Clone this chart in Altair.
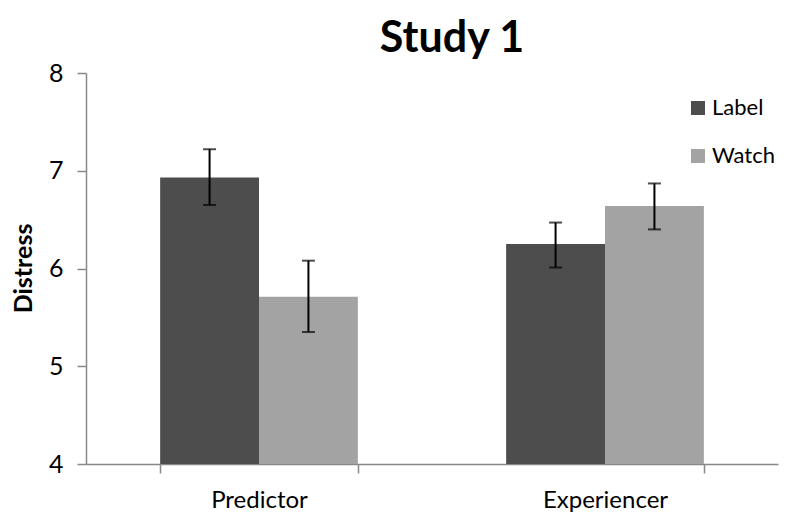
import altair as alt
import pandas as pd

categories = ["Predictor", "Predictor", "Experiencer", "Experiencer"]
conditions = ["Label", "Watch", "Label", "Watch"]
means = [6.93, 5.71, 6.25, 6.64]
err_low = [6.65, 5.35, 6.01, 6.40]
err_high = [7.22, 6.08, 6.47, 6.87]
y_ticks = [4, 5, 6, 7, 8]

cat_order = ["Predictor", "Experiencer"]
cond_order = ["Label", "Watch"]
colors = ["#4d4d4d", "#a3a3a3"]

df = pd.DataFrame({
    "cat": categories,
    "cond": conditions,
    "mean": means,
    "lo": err_low,
    "hi": err_high,
})

FONT = "Lato"
AXIS_GRAY = "#888888"

x_enc = alt.X(
    "cat:N",
    sort=cat_order,
    title=None,
    scale=alt.Scale(paddingInner=3 / 7, paddingOuter=3 / 14),
    axis=alt.Axis(
        tickBand="extent",
        tickSize=9,
        tickColor=AXIS_GRAY,
        tickWidth=1.5,
        domainColor=AXIS_GRAY,
        domainWidth=1.5,
        labelFont=FONT,
        labelFontSize=24,
        labelColor="#000000",
        labelPadding=15,
        labelAngle=0,
    ),
)
xo_enc = alt.XOffset("cond:N", sort=cond_order, scale=alt.Scale(paddingInner=0, paddingOuter=0))

y_scale = alt.Scale(domain=[4, 8], zero=False, nice=False)

bars = alt.Chart(df).mark_bar().encode(
    x=x_enc,
    xOffset=xo_enc,
    y=alt.Y(
        "mean:Q",
        scale=y_scale,
        title="Distress",
        axis=alt.Axis(
            values=y_ticks,
            format="d",
            grid=False,
            tickSize=9,
            tickColor=AXIS_GRAY,
            tickWidth=1.5,
            domainColor=AXIS_GRAY,
            domainWidth=1.5,
            labelFont=FONT,
            labelFontSize=25,
            labelColor="#000000",
            labelPadding=14,
            titleFont=FONT,
            titleFontSize=25,
            titleFontWeight="bold",
            titleColor="#000000",
            titleX=-63,
            titleY=195,
            titleAngle=-90,
            titleAlign="center",
            titleBaseline="middle",
        ),
    ),
    y2=alt.datum(4),
    color=alt.Color(
        "cond:N",
        sort=cond_order,
        scale=alt.Scale(domain=cond_order, range=colors),
        legend=alt.Legend(
            title=None,
            orient="none",
            legendX=601,
            legendY=24,
            symbolType="square",
            symbolSize=196,
            symbolStrokeWidth=0,
            symbolOpacity=1,
            labelFont=FONT,
            labelFontSize=22,
            labelColor="#000000",
            labelOffset=3,
            rowPadding=26,
            padding=0,
        ),
    ),
)

rules = alt.Chart(df).mark_rule(color="#000000", strokeWidth=2).encode(
    x=alt.X("cat:N", sort=cat_order),
    xOffset=xo_enc,
    y=alt.Y("lo:Q", scale=y_scale),
    y2="hi:Q",
)

caps_lo = alt.Chart(df).mark_tick(color="#000000", thickness=2, size=13).encode(
    x=alt.X("cat:N", sort=cat_order),
    xOffset=xo_enc,
    y=alt.Y("lo:Q", scale=y_scale),
)
caps_hi = alt.Chart(df).mark_tick(color="#000000", thickness=2, size=13).encode(
    x=alt.X("cat:N", sort=cat_order),
    xOffset=xo_enc,
    y=alt.Y("hi:Q", scale=y_scale),
)

chart = alt.layer(bars, rules, caps_lo, caps_hi).properties(
    width=692,
    height=391,
    background="#ffffff",
    title=alt.TitleParams(
        text="Study 1",
        font=FONT,
        fontSize=43,
        fontWeight="bold",
        color="#000000",
        anchor="middle",
        dx=20,
        offset=0,
    ),
    autosize=alt.AutoSizeParams(type="none"),
    padding={"left": 78, "top": 65, "right": 2, "bottom": 50},
).configure_view(stroke=None)

chart.save("out.html", embed_options={"renderer": "svg", "actions": False})
